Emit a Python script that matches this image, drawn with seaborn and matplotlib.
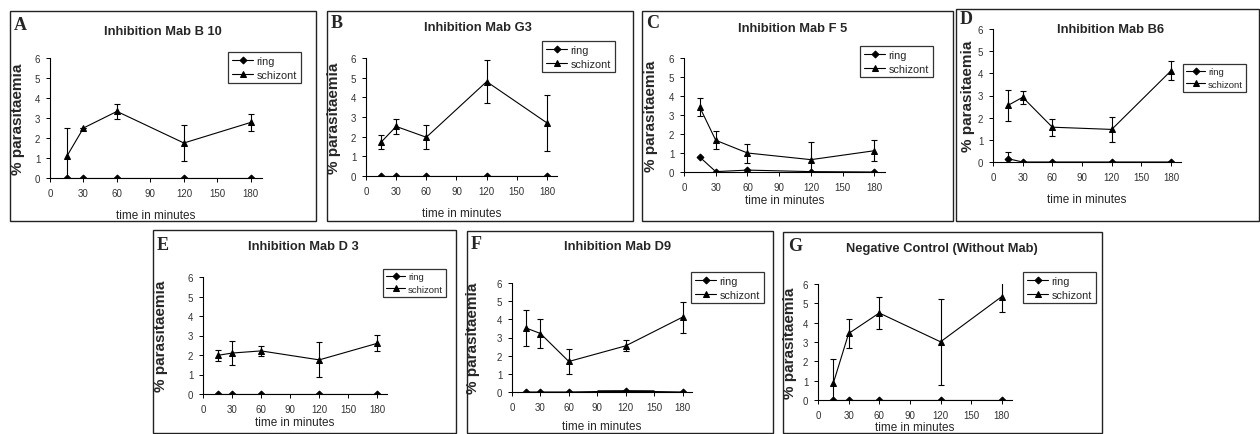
import numpy as np
import pandas as pd
import matplotlib
matplotlib.use('Agg')
import matplotlib.pyplot as plt
import matplotlib.patches as patches
import seaborn as sns

# time points (minutes)
times = [15, 30, 60, 120, 180]

panel_letters = ['A', 'B', 'C', 'D', 'E', 'F', 'G']
panel_titles = ['Inhibition Mab B 10', 'Inhibition Mab G3', 'Inhibition Mab F 5',
                'Inhibition Mab B6', 'Inhibition Mab D 3', 'Inhibition Mab D9',
                'Negative Control (Without Mab)']

# % parasitaemia, ring stage
ring_vals = [
    [0, 0, 0, 0, 0],
    [0, 0, 0, 0, 0],
    [0.78, 0.02, 0.10, 0.02, 0],
    [0.15, 0, 0, 0, 0],
    [0, 0, 0, 0, 0],
    [0, 0, 0, 0.05, 0],
    [0, 0, 0, 0, 0],
]
ring_err = [
    [0, 0, 0, 0, 0],
    [0, 0, 0, 0, 0],
    [0, 0, 0, 0, 0],
    [0.28, 0, 0, 0, 0],
    [0, 0, 0, 0, 0],
    [0, 0, 0, 0, 0],
    [0, 0, 0, 0, 0],
]
# horizontal bar on ring at 120 min in panel F
ring_xerr_F = [0, 0, 0, 30, 0]

# % parasitaemia, schizont stage
schizont_vals = [
    [1.08, 2.50, 3.33, 1.75, 2.78],
    [1.72, 2.52, 1.97, 4.80, 2.70],
    [3.40, 1.67, 1.00, 0.65, 1.12],
    [2.55, 2.92, 1.57, 1.47, 4.12],
    [1.98, 2.10, 2.21, 1.75, 2.60],
    [3.52, 3.22, 1.68, 2.54, 4.12],
    [0.87, 3.44, 4.50, 3.01, 5.35],
]
schizont_err = [
    [1.42, 0.0, 0.38, 0.90, 0.42],
    [0.37, 0.40, 0.62, 1.10, 1.42],
    [0.47, 0.48, 0.50, 0.95, 0.55],
    [0.68, 0.30, 0.38, 0.55, 0.43],
    [0.27, 0.60, 0.25, 0.90, 0.42],
    [0.98, 0.80, 0.70, 0.30, 0.85],
    [1.24, 0.74, 0.83, 2.22, 0.80],
]

W, H = 1260, 435

# layout in pixels
boxes = [(10, 12, 316, 222), (327, 12, 633, 222), (642, 12, 953, 222), (956, 10, 1259, 222),
         (153, 231, 456, 434), (467, 232, 773, 434), (783, 233, 1102, 434)]
axes_px = [(50, 59, 262, 179), (366, 59, 557, 177), (684, 59, 885, 173), (993, 30, 1181, 163),
           (203, 278, 387, 395), (512, 284, 692, 393), (818, 285, 1012, 401)]
title_px = [(163, 32), (478, 28), (793, 29), (1111, 30), (303, 247), (618, 247), (942, 249)]
letter_px = [(14, 25), (331, 24), (646, 24), (960, 20), (157, 246), (471, 245), (788, 247)]
ylabel_x = [25, 341, 658, 975, 168, 480, 797]
xlabel_y = [210, 208, 195, 194, 417, 421, 422]
legend_px = [(228, 53), (542, 42), (860, 47), (1183, 65), (383, 270), (691, 273), (1023, 273)]
legend_fs = [7.8, 7.8, 7.8, 6.8, 6.8, 7.8, 7.8]

sns.set_style('white')
plt.rcParams['font.family'] = ['Liberation Sans', 'DejaVu Sans']

fig = plt.figure(figsize=(W / 100, H / 100), dpi=100)


def fbox(l, t, r, b):
    return [l / W, 1 - b / H, (r - l) / W, (b - t) / H]


for i in range(7):
    l, t, r, b = boxes[i]
    fig.add_artist(patches.Rectangle((l / W, 1 - b / H), (r - l) / W, (b - t) / H,
                                     transform=fig.transFigure, fill=False,
                                     edgecolor='#222222', linewidth=1.0))

    al, at, ar, ab = axes_px[i]
    ax = fig.add_axes(fbox(al, at, ar, ab))

    sns.lineplot(x=times, y=ring_vals[i], ax=ax, color='black', marker='D',
                 markersize=3.5, markeredgecolor='black', linewidth=0.8, label='ring')
    sns.lineplot(x=times, y=schizont_vals[i], ax=ax, color='black', marker='^',
                 markersize=5, markeredgecolor='black', linewidth=0.8, label='schizont')
    ax.errorbar(times, schizont_vals[i], yerr=schizont_err[i], fmt='none',
                ecolor='black', elinewidth=0.8, capsize=2.5, capthick=0.8)
    if any(ring_err[i]):
        ax.errorbar(times, ring_vals[i], yerr=ring_err[i], fmt='none',
                    ecolor='black', elinewidth=0.8, capsize=2.5, capthick=0.8)
    if panel_letters[i] == 'F':
        ax.errorbar(times, ring_vals[i], xerr=ring_xerr_F, fmt='none',
                    ecolor='black', elinewidth=1.8, capsize=0)

    ax.set_xlim(0, 190)
    ax.set_ylim(0, 6)
    ax.set_xticks([0, 30, 60, 90, 120, 150, 180])
    ax.set_yticks([0, 1, 2, 3, 4, 5, 6])
    for s in ['top', 'right']:
        ax.spines[s].set_visible(False)
    for s in ['left', 'bottom']:
        ax.spines[s].set_color('black')
        ax.spines[s].set_linewidth(0.8)
    ax.tick_params(axis='both', direction='out', length=3, width=0.7,
                   labelsize=7, labelcolor='#333333', color='black', pad=4,
                   left=True, bottom=True)
    ax.set_facecolor('none')

    ax_w = ar - al
    ax_h = ab - at
    ax.set_ylabel('% parasitaemia', fontsize=11, fontweight='bold')
    ax.yaxis.set_label_coords((ylabel_x[i] - al) / ax_w, 0.5)
    ax.set_xlabel('time in minutes', fontsize=8.5)
    ax.xaxis.set_label_coords(0.5, -(xlabel_y[i] - ab) / ax_h)

    lx, ly = legend_px[i]
    leg = ax.legend(loc='upper left', bbox_to_anchor=(lx / W, 1 - ly / H),
                    bbox_transform=fig.transFigure, frameon=True, fancybox=False,
                    edgecolor='black', fontsize=legend_fs[i], handlelength=2.0,
                    handletextpad=0.3, borderpad=0.35, labelspacing=0.35,
                    borderaxespad=0)
    leg.get_frame().set_linewidth(0.9)

    tx, ty = title_px[i]
    fig.text(tx / W, 1 - ty / H, panel_titles[i], ha='center', va='center',
             fontsize=9.3, fontweight='bold')
    lx, ly = letter_px[i]
    fig.text(lx / W, 1 - ly / H, panel_letters[i], ha='left', va='center',
             fontsize=13, fontweight='bold', family=['Liberation Serif', 'DejaVu Serif'])

fig.savefig('out.png', dpi=100, facecolor='white')
